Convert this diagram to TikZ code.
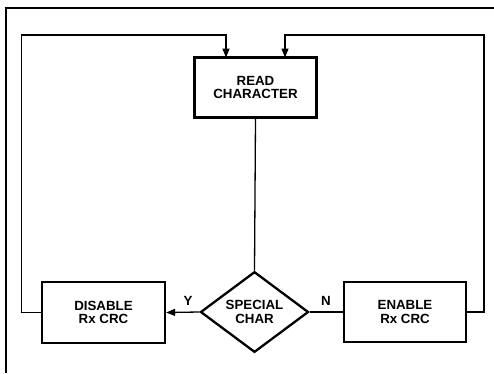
\documentclass[tikz,border=0pt]{standalone}
\usepackage{fontspec}
\setmainfont{Liberation Sans}
\usetikzlibrary{shapes.geometric,arrows.meta}
\begin{document}
\begin{tikzpicture}[x=1pt,y=-1pt,
  txt/.style={font=\fontsize{13.3}{13.6}\selectfont\bfseries},
  box/.style={draw,line width=2.3pt,inner sep=0pt,align=center,txt},
  decision/.style={draw,diamond,line width=2.3pt,inner sep=0pt,minimum width=108pt,minimum height=80pt,align=center,txt},
  conn/.style={line width=1.3pt},
  arr/.style={conn,-{Triangle[length=9pt,width=7pt]}},
  lbl/.style={txt,inner sep=0pt}]
\useasboundingbox (0,0) rectangle (494,373);
% frame
\coordinate (fl) at (6,373);
\coordinate (ft) at (6,8);
\coordinate (fr) at (494,8);
\draw[line width=1.8pt] (fl) -- (ft) -- (fr);
% nodes
\node[box,minimum width=122pt,minimum height=60pt] (read) at (255.5,87.5) {READ\\CHARACTER};
\node[decision] (spec) at (254.5,312) {SPECIAL\\CHAR};
\node[box,minimum width=123pt,minimum height=61pt] (dis) at (103.5,312.5) {DISABLE\\Rx CRC};
\node[box,minimum width=122pt,minimum height=60pt] (en) at (405,312) {ENABLE\\Rx CRC};
% labels
\node[lbl] (y) at (188,301) {Y};
\node[lbl] (n) at (326,301) {N};
% connectors
\coordinate (lt) at (21.5,35);
\coordinate (rt) at (484,35);
\coordinate (inl) at (226,57.5);
\coordinate (inr) at (285,57.5);
\draw[conn] (read.south) -- (spec.north);
\draw[arr] (spec.west) -- (dis.east);
\draw[conn] (spec.east) -- (en.west);
\draw[arr] (dis.west) -| (lt) -| (inl);
\draw[arr] (en.east) -| (rt) -| (inr);
\end{tikzpicture}
\end{document}
